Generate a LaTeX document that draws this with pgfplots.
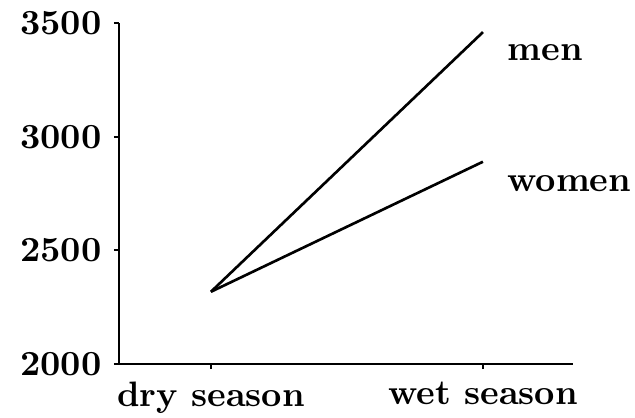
\documentclass[border=0pt]{standalone}
\usepackage{pgfplots}
\pgfplotsset{compat=1.18}
\begin{document}
\begin{tikzpicture}
\begin{axis}[
  scale only axis,
  width=128.6pt, height=96.6pt,
  xmin=-0.338, xmax=1.331,
  ymin=2000, ymax=3500,
  axis x line*=bottom, axis y line*=left,
  axis line style={line width=0.6pt},
  tick style={line width=0.6pt, black},
  tick align=outside,
  major tick length=1.45pt,
  xtick={0,1}, xticklabels={dry season, wet season},
  ytick={2000,2500,3000,3500},
  ticklabel style={font=\bfseries},
  /pgf/number format/assume math mode=true,
  /pgf/number format/1000 sep={},
  clip=false,
]
\addplot[black, line width=0.75pt] coordinates {(0,2318) (1,3460)};
\addplot[black, line width=0.75pt] coordinates {(0,2318) (1,2890)};
\node[anchor=base west, font=\bfseries, inner sep=0pt] at (axis cs:1.088,3337) {men};
\node[anchor=base west, font=\bfseries, inner sep=0pt] at (axis cs:1.088,2761) {women};
\end{axis}
\pgfresetboundingbox
\path[use as bounding box] ([shift={(-33.7pt,-15.0pt)}]current axis.south west) rectangle ([shift={(17.56pt,6.52pt)}]current axis.north east);
\end{tikzpicture}
\end{document}
